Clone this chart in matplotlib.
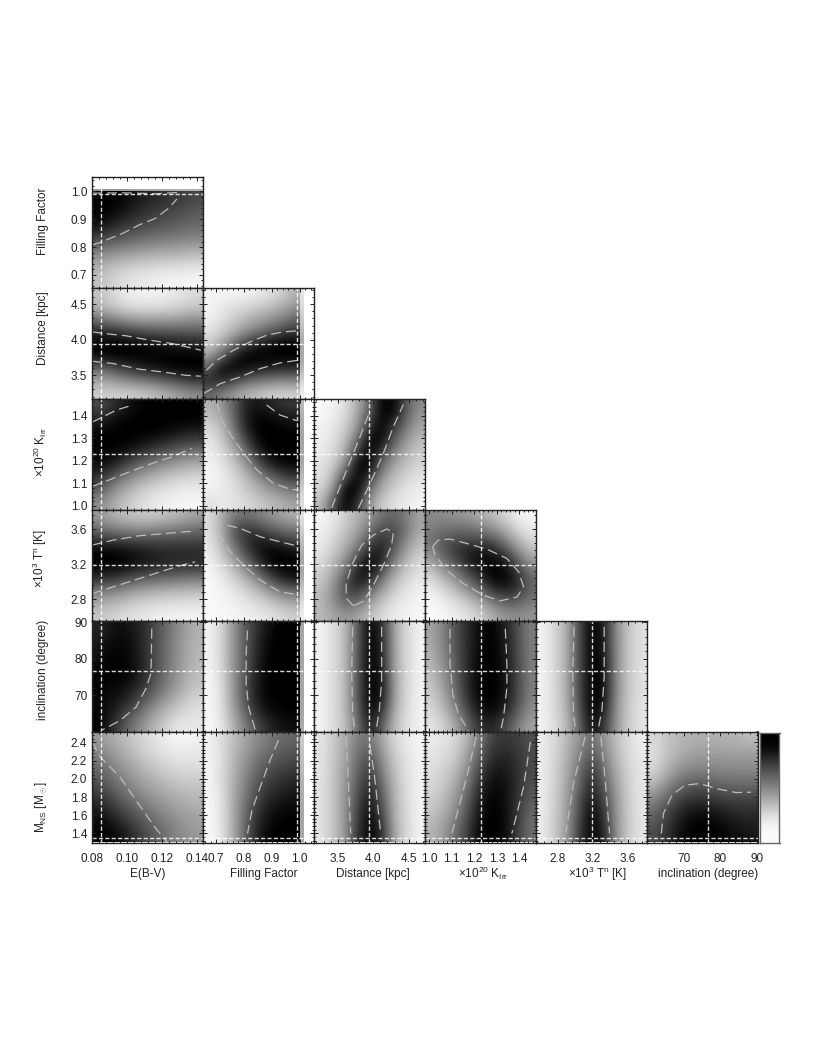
import matplotlib
matplotlib.use("Agg")
import numpy as np
import matplotlib.pyplot as plt
from matplotlib.ticker import AutoMinorLocator, FixedLocator

plt.rcParams['font.family'] = ['Liberation Sans', 'DejaVu Sans']
plt.rcParams['mathtext.fontset'] = 'custom'
plt.rcParams['mathtext.rm'] = 'Liberation Sans'
plt.rcParams['mathtext.it'] = 'Liberation Sans'
plt.rcParams['mathtext.bf'] = 'Liberation Sans'

# axis limits, ticks and best fit value of each parameter
ebv_lim = (0.08, 0.1435)
fill_lim = (0.653, 1.052)
dist_lim = (3.165, 4.73)
kirr_lim = (0.982, 1.474)
tn_lim = (2.552, 3.817)
inc_lim = (60.0, 90.3)
mns_lim = (1.30, 2.52)

ebv_ticks = [0.08, 0.10, 0.12, 0.14]
fill_ticks = [0.7, 0.8, 0.9, 1.0]
dist_ticks = [3.5, 4.0, 4.5]
kirr_ticks = [1.0, 1.1, 1.2, 1.3, 1.4]
tn_ticks = [2.8, 3.2, 3.6]
inc_ticks = [70, 80, 90]
mns_ticks = [1.4, 1.6, 1.8, 2.0, 2.2, 2.4]

best = [0.0852, 0.990, 3.94, 1.228, 3.19, 76.7, 1.35]

# darkness (1 = black), rows run top to bottom
fill_ebv = [
    [1, 1, .93, .88, .82, .78, .72],
    [1, .97, .88, .8, .75, .7, .65],
    [.95, .82, .75, .7, .65, .62, .58],
    [.72, .65, .6, .55, .52, .5, .47],
    [.48, .42, .38, .34, .32, .3, .28],
    [.3, .22, .18, .15, .13, .12, .1],
    [.25, .15, .1, .07, .05, .04, .03]]
dist_ebv = [
    [.25, .12, .06, .05, .06, .1, .15],
    [.3, .2, .13, .12, .13, .17, .22],
    [.55, .45, .38, .35, .36, .38, .42],
    [.85, .8, .72, .68, .65, .65, .65],
    [1, 1, 1, .95, .92, .88, .85],
    [.95, 1, 1, 1, 1, 1, 1],
    [.6, .72, .82, .9, .97, 1, 1],
    [.35, .4, .5, .55, .62, .72, .8],
    [.2, .18, .2, .22, .3, .38, .45]]
dist_fill = [
    [.03, .05, .05, .05, .08, .12, .18, .3],
    [.05, .08, .12, .15, .2, .25, .32, .42],
    [.05, .12, .2, .28, .35, .42, .48, .6],
    [.12, .18, .3, .42, .52, .62, .72, .8],
    [.2, .32, .55, .75, .88, .95, 1, 1],
    [.38, .6, .85, 1, 1, 1, 1, 1],
    [.65, .95, 1, .95, .9, .88, .85, .85],
    [.85, .85, .75, .62, .55, .5, .48, .48],
    [.6, .5, .4, .3, .25, .2, .18, .18]]
kirr_ebv = [
    [.7, .82, .95, 1, 1, 1, 1],
    [.85, .97, 1, 1, 1, 1, 1],
    [1, 1, 1, 1, .97, .9, .85],
    [1, 1, .95, .85, .75, .68, .62],
    [.98, .9, .72, .6, .5, .42, .36],
    [.85, .65, .48, .35, .27, .2, .17],
    [.65, .42, .28, .18, .12, .08, .08],
    [.45, .3, .18, .1, .06, .04, .03]]
kirr_fill = [
    [.3, .4, .62, .85, .92, .85, .8, .78],
    [.22, .3, .58, .9, 1, 1, .95, .92],
    [.12, .22, .48, .8, 1, 1, 1, 1],
    [.08, .15, .35, .62, .9, 1, 1, 1],
    [.05, .1, .22, .42, .7, .92, 1, 1],
    [.03, .07, .15, .28, .45, .62, .75, .82],
    [.05, .07, .12, .2, .3, .4, .48, .55],
    [.12, .1, .1, .15, .2, .25, .3, .35]]
kirr_dist = [
    [.02, .05, .12, .3, .6, 1, 1, .65, .45],
    [.03, .07, .15, .35, .7, 1, .9, .6, .4],
    [.05, .1, .2, .42, .85, 1, .72, .5, .33],
    [.06, .12, .25, .6, 1, .95, .6, .4, .25],
    [.08, .15, .32, .8, 1, .72, .45, .3, .2],
    [.1, .2, .48, 1, 1, .55, .35, .22, .15],
    [.12, .28, .75, 1, .75, .4, .25, .15, .1],
    [.17, .42, 1, 1, .55, .3, .17, .1, .07],
    [.25, .65, 1, .8, .4, .2, .12, .07, .04]]
tn_ebv = [
    [.4, .28, .22, .2, .22, .28, .35],
    [.55, .48, .42, .42, .45, .5, .55],
    [.8, .75, .72, .72, .72, .72, .72],
    [1, 1, .95, .9, .85, .85, .85],
    [1, 1, .95, .88, .85, .82, .82],
    [.85, .8, .7, .65, .6, .58, .55],
    [.55, .5, .42, .36, .32, .3, .28],
    [.35, .28, .22, .17, .15, .13, .12],
    [.22, .17, .12, .08, .06, .05, .05]]
tn_fill = [
    [.12, .3, .5, .55, .5, .42, .35, .3],
    [.12, .32, .65, .78, .72, .62, .55, .5],
    [.1, .28, .6, .8, .9, .85, .78, .72],
    [.07, .2, .45, .7, .9, 1, 1, .95],
    [.05, .13, .3, .5, .75, .95, 1, 1],
    [.03, .08, .18, .32, .5, .72, .88, .95],
    [.02, .05, .1, .18, .28, .42, .55, .62],
    [.02, .04, .06, .1, .15, .22, .3, .35],
    [.02, .03, .04, .06, .08, .12, .15, .2]]
tn_dist = [
    [.03, .08, .18, .3, .4, .55, .6, .5, .35],
    [.05, .1, .22, .35, .52, .68, .7, .55, .35],
    [.07, .15, .28, .42, .68, .82, .7, .45, .28],
    [.1, .2, .35, .6, .88, .9, .6, .35, .2],
    [.15, .28, .48, .8, 1, .8, .45, .25, .13],
    [.2, .35, .62, .92, .9, .58, .3, .17, .1],
    [.25, .42, .7, .8, .62, .38, .2, .1, .06],
    [.27, .42, .6, .58, .4, .22, .12, .07, .04],
    [.27, .35, .42, .37, .25, .15, .08, .05, .03]]
tn_kirr = [
    [.45, .45, .42, .38, .32, .25, .15, .06, .03],
    [.5, .55, .55, .55, .5, .42, .3, .15, .07],
    [.55, .65, .72, .72, .72, .68, .5, .3, .15],
    [.45, .65, .78, .9, .95, .9, .75, .5, .3],
    [.3, .5, .65, .82, .95, 1, .95, .7, .45],
    [.15, .3, .45, .65, .82, 1, 1, .85, .6],
    [.07, .15, .28, .42, .6, .8, .88, .8, .6],
    [.03, .07, .13, .22, .35, .52, .62, .62, .52],
    [.02, .04, .07, .12, .2, .32, .42, .45, .42]]
inc_ebv = [
    [.85, .95, .92, .8, .62, .45, .3],
    [.9, 1, .95, .8, .6, .42, .28],
    [.95, 1, .97, .8, .6, .42, .27],
    [1, 1, .97, .8, .58, .4, .25],
    [.98, .95, .88, .7, .5, .33, .2],
    [.98, .9, .72, .52, .33, .2, .12],
    [1, .78, .55, .35, .2, .08, .1]]
inc_fill = [
    [.05, .15, .42, .65, .82, .95, 1, 1],
    [.05, .15, .42, .65, .85, 1, 1, 1],
    [.05, .15, .42, .65, .88, 1, 1, 1],
    [.04, .13, .42, .68, .9, 1, 1, 1],
    [.03, .12, .4, .68, .92, 1, 1, 1],
    [.03, .1, .38, .65, .88, .97, 1, 1],
    [.03, .08, .3, .5, .72, .85, .92, .95]]
inc_dist = [
    [.05, .13, .25, .62, 1, .85, .35, .15, .05],
    [.05, .13, .25, .62, 1, .88, .35, .15, .05],
    [.05, .13, .25, .65, 1, .9, .35, .15, .05],
    [.05, .13, .25, .65, 1, .92, .37, .15, .05],
    [.05, .13, .25, .65, 1, .95, .38, .15, .05],
    [.05, .13, .25, .62, 1, .85, .33, .14, .05],
    [.05, .13, .23, .55, .9, .65, .27, .12, .05]]
inc_kirr = [
    [.35, .5, .68, .85, .97, 1, .88, .7, .5],
    [.33, .48, .68, .85, .97, 1, .9, .7, .5],
    [.28, .45, .65, .85, 1, 1, .92, .72, .5],
    [.25, .42, .62, .85, 1, 1, .93, .72, .5],
    [.2, .35, .58, .85, 1, 1, .95, .72, .5],
    [.15, .27, .5, .75, .97, 1, .88, .68, .45],
    [.1, .18, .35, .6, .82, .85, .72, .52, .35]]
inc_tn = [
    [.05, .15, .32, .7, 1, .9, .45, .22, .12],
    [.05, .15, .32, .7, 1, .92, .45, .22, .12],
    [.05, .15, .32, .7, 1, .95, .45, .22, .12],
    [.05, .15, .32, .72, 1, .97, .45, .22, .12],
    [.05, .15, .32, .72, 1, .97, .45, .22, .12],
    [.05, .14, .3, .68, 1, .92, .43, .2, .11],
    [.05, .13, .27, .6, .95, .8, .4, .2, .1]]
mns_ebv = [
    [.4, .3, .22, .13, .07, .03, .05],
    [.5, .38, .28, .18, .12, .08, .1],
    [.62, .48, .37, .27, .2, .15, .15],
    [.72, .58, .47, .37, .3, .25, .23],
    [.85, .7, .58, .48, .4, .33, .3],
    [.97, .85, .72, .6, .5, .42, .36],
    [1, .98, .85, .7, .58, .47, .4]]
mns_fill = [
    [.05, .12, .25, .35, .45, .52, .58, .6],
    [.05, .12, .28, .4, .52, .6, .65, .68],
    [.04, .12, .3, .45, .6, .7, .75, .78],
    [.04, .12, .32, .5, .68, .78, .85, .88],
    [.03, .1, .33, .55, .75, .88, .92, .95],
    [.03, .1, .33, .6, .82, .95, 1, 1],
    [.03, .08, .33, .62, .88, 1, 1, 1]]
mns_dist = [
    [.1, .2, .33, .5, .55, .35, .15, .08, .04],
    [.1, .2, .35, .55, .68, .42, .2, .1, .05],
    [.1, .22, .37, .6, .78, .5, .25, .12, .05],
    [.1, .22, .4, .65, .85, .6, .28, .13, .05],
    [.1, .22, .4, .72, .92, .68, .3, .14, .05],
    [.1, .22, .4, .75, 1, .75, .32, .15, .05],
    [.1, .22, .4, .8, 1, .85, .35, .15, .05]]
mns_kirr = [
    [.08, .1, .15, .3, .55, .75, .78, .75, .68],
    [.1, .13, .2, .37, .65, .82, .85, .8, .7],
    [.13, .18, .27, .47, .75, .9, .9, .82, .7],
    [.15, .22, .35, .55, .85, .97, .95, .82, .68],
    [.2, .27, .42, .65, .92, 1, .95, .8, .62],
    [.25, .33, .5, .72, .97, 1, .97, .78, .58],
    [.3, .4, .58, .78, 1, 1, .97, .75, .55]]
mns_tn = [
    [.07, .15, .27, .42, .58, .42, .25, .13, .07],
    [.07, .16, .3, .47, .68, .5, .28, .15, .08],
    [.07, .17, .32, .55, .8, .58, .32, .17, .1],
    [.07, .18, .35, .6, .88, .65, .37, .18, .1],
    [.07, .18, .37, .68, .95, .75, .4, .2, .1],
    [.07, .2, .38, .72, 1, .82, .42, .2, .1],
    [.07, .2, .4, .78, 1, .88, .43, .2, .1]]
mns_inc = [
    [.15, .25, .3, .32, .3, .3, .25],
    [.12, .27, .35, .38, .38, .38, .38],
    [.15, .35, .47, .5, .48, .47, .47],
    [.3, .52, .65, .67, .62, .6, .6],
    [.5, .7, .82, .85, .8, .77, .77],
    [.62, .8, .95, 1, .95, .88, .85],
    [.7, .85, 1, 1, 1, .95, .92]]
colorbar_levels = [1, .97, .82, .68, .55, .42, .28, .14, .04, .02]

# dashed confidence contours, (x values, y values) in data units
c_fill_ebv = [([.08, .0852, .0978, .1071, .1165, .1239, .1286], [.808, .818, .850, .880, .904, .940, .973]),
              ([.08, .0978, .1165, .1286], [.994, .995, .992, .996])]
c_dist_ebv = [([.08, .0865, .0996, .1127, .1258, .1423], [4.112, 4.089, 4.056, 3.995, 3.947, 3.853]),
              ([.08, .0921, .1071, .1202, .1333, .1423], [3.698, 3.665, 3.585, 3.547, 3.50, 3.486])]
c_dist_fill = [([.665, .703, .763, .823, .882, .942, .996], [3.570, 3.712, 3.853, 3.971, 4.065, 4.112, 4.127]),
               ([.655, .715, .787, .859, .930, .996], [3.240, 3.382, 3.476, 3.594, 3.674, 3.712])]
c_kirr_ebv = [([.08, .0865, .094, .1019], [1.371, 1.396, 1.425, 1.444]),
              ([.08, .0865, .0978, .1109, .1258, .1371], [1.086, 1.105, 1.140, 1.179, 1.218, 1.255])]
c_kirr_fill = [([.703, .721, .757, .799, .847, .906, .966, .996], [1.455, 1.381, 1.307, 1.233, 1.159, 1.100, 1.074, 1.071]),
               ([.882, .930, .990], [1.447, 1.403, 1.378])]
c_kirr_dist = [([3.414, 3.579, 3.710, 3.814, 3.931], [.992, 1.122, 1.226, 1.307, 1.403]),
               ([3.790, 3.978, 4.143, 4.284, 4.425], [.989, 1.115, 1.233, 1.351, 1.450])]
c_tn_ebv = [([.08, .0922, .1071, .122, .1389], [3.417, 3.474, 3.524, 3.550, 3.577]),
            ([.08, .0922, .1071, .122, .1314, .1389], [2.865, 2.941, 3.036, 3.131, 3.188, 3.226])]
c_tn_fill = [([.709, .709, .727, .787, .859, .930, .990], [3.550, 3.607, 3.653, 3.607, 3.512, 3.455, 3.409]),
             ([.709, .751, .799, .859, .930, .990], [3.550, 3.341, 3.188, 3.017, 2.884, 2.853])]
c_tn_dist = [([3.720, 3.626, 3.616, 3.696, 3.837, 4.002, 4.190, 4.284, 4.260, 4.143, 3.978, 3.861, 3.720],
              [2.724, 2.807, 2.960, 3.188, 3.417, 3.531, 3.600, 3.562, 3.417, 3.188, 2.922, 2.777, 2.724])]
c_tn_kirr = [([1.016, 1.041, 1.093, 1.167, 1.256, 1.345, 1.397, 1.419, 1.390, 1.315, 1.241, 1.152, 1.078, 1.026, 1.016],
              [3.398, 3.474, 3.486, 3.436, 3.371, 3.265, 3.112, 2.941, 2.826, 2.781, 2.845, 2.979, 3.131, 3.303, 3.398])]
c_inc_ebv = [([.1142, .114, .1137, .1108, .1052, .0959, .0856], [88.2, 81.4, 75.9, 71.8, 66.8, 63.1, 60.5])]
c_inc_fill = [([.813, .808, .808, .817, .841], [87.7, 81.4, 73.1, 66.8, 60.4])]
c_inc_dist = [([3.71, 3.696, 3.71, 3.744], [88.7, 76.8, 64.9, 60.4]),
              ([4.119, 4.119, 4.086, 4.039], [88.7, 74.1, 65.8, 60.4])]
c_inc_kirr = [([1.093, 1.093, 1.105, 1.130, 1.175], [88.2, 78.6, 70.4, 64.9, 60.4]),
              ([1.338, 1.345, 1.345, 1.330, 1.318], [88.2, 78.6, 72.2, 64.0, 60.4])]
c_inc_tn = [([2.986, 2.971, 2.979, 3.005], [88.7, 76.8, 64.9, 60.4]),
            ([3.329, 3.329, 3.303, 3.257], [88.7, 75.0, 65.8, 60.4])]
c_mns_ebv = [([.08, .0847, .0959, .1071, .1165, .123], [2.406, 2.242, 2.022, 1.710, 1.454, 1.307])]
c_mns_fill = [([.924, .894, .859, .829, .813], [2.425, 2.205, 1.912, 1.655, 1.399])]
c_mns_dist = [([3.617, 3.650, 3.682], [2.461, 1.985, 1.399]),
              ([3.955, 4.025, 4.105], [2.370, 1.985, 1.399])]
c_mns_kirr = [([1.209, 1.167, 1.101], [2.461, 2.022, 1.399]),
              ([1.449, 1.419, 1.367], [2.406, 1.912, 1.399])]
c_mns_tn = [([3.112, 2.979, 2.891], [2.461, 1.949, 1.399]),
            ([3.291, 3.341, 3.390], [2.461, 1.985, 1.399])]
c_mns_inc = [([63.9, 64.5, 66.8, 70.4, 74.4, 78.9, 84.3, 88.4], [1.399, 1.619, 1.820, 1.930, 1.948, 1.893, 1.849, 1.853])]

x_limits = [ebv_lim, fill_lim, dist_lim, kirr_lim, tn_lim, inc_lim]
y_limits = [fill_lim, dist_lim, kirr_lim, tn_lim, inc_lim, mns_lim]
x_ticks = [ebv_ticks, fill_ticks, dist_ticks, kirr_ticks, tn_ticks, inc_ticks]
y_ticks = [fill_ticks, dist_ticks, kirr_ticks, tn_ticks, inc_ticks, mns_ticks]
x_fmt = ['%.2f', '%.1f', '%.1f', '%.1f', '%.1f', '%d']
y_fmt = ['%.1f', '%.1f', '%.1f', '%.1f', '%d', '%.1f']
x_names = ['E(B-V)', 'Filling Factor', 'Distance [kpc]', r'$\times10^{20}$ K$_{\rm Irr}$',
           r'$\times10^{3}$ T$^{\rm n}$ [K]', 'inclination (degree)']
y_names = ['Filling Factor', 'Distance [kpc]', r'$\times10^{20}$ K$_{\rm Irr}$',
           r'$\times10^{3}$ T$^{\rm n}$ [K]', 'inclination (degree)', r'M$_{\rm NS}$ [M$_\odot$]']

grids = [[fill_ebv],
         [dist_ebv, dist_fill],
         [kirr_ebv, kirr_fill, kirr_dist],
         [tn_ebv, tn_fill, tn_dist, tn_kirr],
         [inc_ebv, inc_fill, inc_dist, inc_kirr, inc_tn],
         [mns_ebv, mns_fill, mns_dist, mns_kirr, mns_tn, mns_inc]]
contours = [[c_fill_ebv],
            [c_dist_ebv, c_dist_fill],
            [c_kirr_ebv, c_kirr_fill, c_kirr_dist],
            [c_tn_ebv, c_tn_fill, c_tn_dist, c_tn_kirr],
            [c_inc_ebv, c_inc_fill, c_inc_dist, c_inc_kirr, c_inc_tn],
            [c_mns_ebv, c_mns_fill, c_mns_dist, c_mns_kirr, c_mns_tn, c_mns_inc]]

W, H = 815.0, 1054.0
col_left = [92, 203, 314, 425, 536, 647]
row_top = [177, 288, 399, 510, 621, 731.5]
side = 111
# label centres, in pixels, since they do not sit at the panel middles
ylabel_mid = [221, 328, 452, 558, 670, 807]
xlabel_mid = [148, 264, 373, 483, 598, 708]
fill_edge = 1.0
fill_fade = 1.014
text_col = '#222222'

fig = plt.figure(figsize=(W / 100, H / 100), dpi=100, facecolor='white')

for r in range(6):
    for c in range(r + 1):
        ax = fig.add_axes([col_left[c] / W, 1 - (row_top[r] + side) / H, side / W, side / H])
        xl = x_limits[c]
        yl = y_limits[r]
        grid = np.array(grids[r][c], dtype=float)
        ext = [xl[0], xl[1], yl[0], yl[1]]
        if c == 1:
            ext[1] = fill_edge
            # soft edge of the map just past filling factor 1
            ax.imshow(grid[:, -1:] * 0.35, cmap='gray_r', vmin=0, vmax=1, aspect='auto',
                      extent=[fill_edge, fill_fade, yl[0], yl[1]], interpolation='bicubic')
        if r == 0:
            ext[3] = fill_edge
            ax.imshow(grid[:1, :] * 0.4, cmap='gray_r', vmin=0, vmax=1, aspect='auto',
                      extent=[xl[0], xl[1], fill_edge, 1.006], interpolation='bicubic')
        ax.imshow(grid, cmap='gray_r', vmin=0, vmax=1, aspect='auto', extent=ext,
                  interpolation='bicubic')

        for xs, ys in contours[r][c]:
            ax.plot(xs, ys, color='#bcbcbc', lw=0.9, ls=(0, (8, 4)))
        ax.axvline(best[c], color='white', lw=1.0, ls=(0, (3, 1.6)), alpha=0.85)
        ax.axhline(best[r + 1], color='white', lw=1.0, ls=(0, (3, 1.6)), alpha=0.85)

        ax.set_xlim(xl)
        ax.set_ylim(yl)
        ax.xaxis.set_major_locator(FixedLocator(x_ticks[c]))
        ax.yaxis.set_major_locator(FixedLocator(y_ticks[r]))
        ax.xaxis.set_minor_locator(AutoMinorLocator(5))
        ax.yaxis.set_minor_locator(AutoMinorLocator(5))
        ax.tick_params(which='both', direction='in', top=True, right=True, color='#222222',
                       width=0.7, labelsize=8.5, labelcolor=text_col)
        ax.tick_params(which='major', length=3.2)
        ax.tick_params(which='minor', length=1.7)
        ax.tick_params(axis='x', which='major', pad=7.5)
        ax.tick_params(axis='y', which='major', pad=3.5)
        for s in ax.spines.values():
            s.set_linewidth(1.0)
            s.set_color('#222222')

        if c == 0:
            ax.set_yticklabels([y_fmt[r] % t for t in y_ticks[r]])
            ax.set_ylabel(y_names[r], fontsize=8.5, color=text_col)
            ax.yaxis.set_label_coords(-0.385, 1 - (ylabel_mid[r] - row_top[r]) / side)
        else:
            ax.set_yticklabels([])
        if r == 5:
            ax.set_xticklabels([x_fmt[c] % t for t in x_ticks[c]])
            ax.set_xlabel(x_names[c], fontsize=8.5, color=text_col, va='center')
            ax.xaxis.set_label_coords((xlabel_mid[c] - col_left[c]) / side, -0.28)
        else:
            ax.set_xticklabels([])

# grey scale bar next to the last panel
cax = fig.add_axes([759.5 / W, 1 - 842.5 / H, 20 / W, 110 / H])
cax.imshow(np.array(colorbar_levels).reshape(-1, 1), cmap='gray_r', vmin=0, vmax=1,
           aspect='auto', interpolation='bicubic')
cax.set_xticks([])
cax.set_yticks([])
for s in cax.spines.values():
    s.set_linewidth(1.0)
    s.set_color('#666666')

fig.savefig('out.png', dpi=100)
